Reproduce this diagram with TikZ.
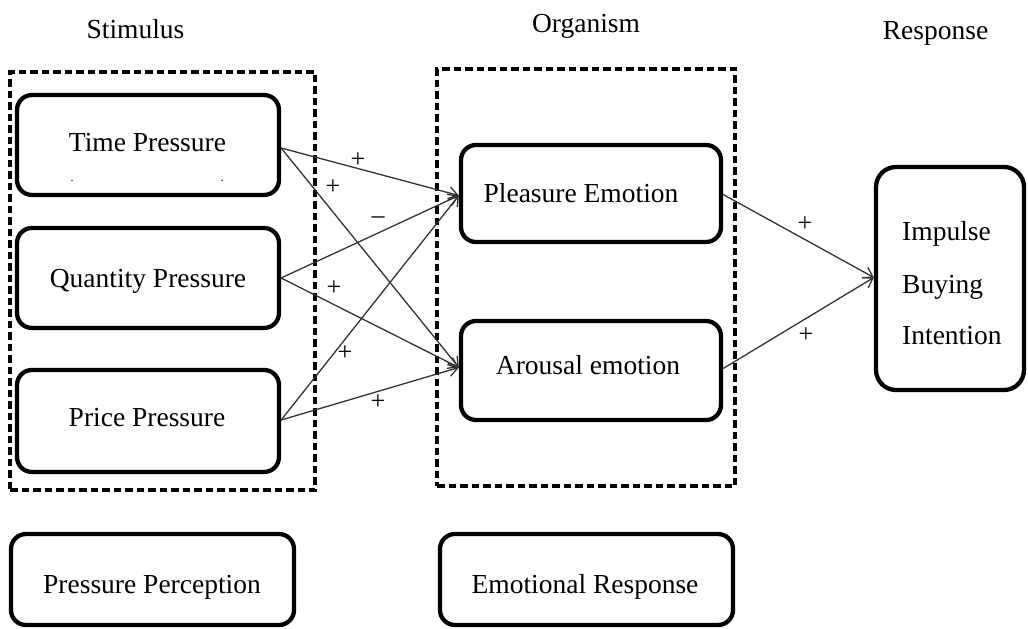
\documentclass[tikz,border=0pt]{standalone}
\usepackage{fontspec}
\setmainfont{Liberation Serif}
\usetikzlibrary{arrows.meta}
\begin{document}
\begin{tikzpicture}[x=1pt,y=-1pt,
  txt/.style={font=\fontsize{27.5}{32}\selectfont, inner sep=0pt, anchor=base},
  sign/.style={font=\fontsize{26}{30}\selectfont, inner sep=0pt},
  dotmark/.style={font=\fontsize{12}{14}\selectfont, inner sep=0pt},
  box/.style={draw, line width=4.3pt, rounded corners=15pt, inner sep=0pt},
  group/.style={draw, line width=4pt, dash pattern=on 7.5pt off 4pt, inner sep=0pt},
  link/.style={line width=1.3pt, draw=black!80, -{Straight Barb[length=9pt,width=12pt,line width=1.3pt]}}
]
\useasboundingbox (0,0) rectangle (1028,629);

% group frames
\node[group, minimum width=305pt, minimum height=418pt] (stimgrp) at (162.5,281) {};
\node[group, minimum width=298pt, minimum height=417pt] (orggrp) at (586,277.5) {};

% titles
\node[txt] (tStim) at (135.5,38) {Stimulus};
\node[txt] (tOrg) at (586,32) {Organism};
\node[txt] (tResp) at (935.5,39) {Response};

% boxes
\node[box, minimum width=262pt, minimum height=100pt] (tp) at (148,145) {};
\node[box, minimum width=262pt, minimum height=100pt] (qp) at (148,278) {};
\node[box, minimum width=262pt, minimum height=102pt] (pp) at (148,421) {};
\node[box, minimum width=260pt, minimum height=97pt] (pe) at (591,193.5) {};
\node[box, minimum width=260pt, minimum height=99pt] (ae) at (591,370.5) {};
\node[box, rounded corners=20pt, minimum width=148pt, minimum height=223pt] (ib) at (950,278.5) {};
\node[box, minimum width=283pt, minimum height=91pt] (pc) at (152.5,579.5) {};
\node[box, minimum width=293pt, minimum height=91pt] (er) at (586.5,579.5) {};

% box texts
\node[txt] (xTime) at (147.5,151) {Time Pressure};
\node[dotmark] (dotA) at (72,181) {.};
\node[dotmark] (dotB) at (222,181) {.};
\node[txt] (xQty) at (148,287) {Quantity Pressure};
\node[txt] (xPrice) at (147,426) {Price Pressure};
\node[txt] (xPle) at (581,202) {Pleasure Emotion};
\node[txt] (xAro) at (588,374) {Arousal emotion};
\node[txt, anchor=base west] (xImp1) at (902,240) {Impulse};
\node[txt, anchor=base west] (xImp2) at (902,293) {Buying};
\node[txt, anchor=base west] (xImp3) at (902,344) {Intention};
\node[txt] (xPc) at (152,593) {Pressure Perception};
\node[txt] (xEr) at (585,593) {Emotional Response};

% connectors
\draw[link] ([yshift=-3pt]tp.east) -- ([yshift=-2pt]pe.west);
\draw[link] ([yshift=-3pt]tp.east) -- ([yshift=3pt]ae.west);
\draw[link] (qp.east) -- ([yshift=-2pt]pe.west);
\draw[link] (qp.east) -- ([yshift=3pt]ae.west);
\draw[link] ([yshift=1pt]pp.east) -- ([yshift=-2pt]pe.west);
\draw[link] ([yshift=1pt]pp.east) -- ([yshift=3pt]ae.west);
\draw[link] ([yshift=-1pt]pe.east) -- ([yshift=1pt]ib.west);
\draw[link] ([yshift=2pt]ae.east) -- ([yshift=1pt]ib.west);

% signs
\node[sign] (s1) at (358,160) {+};
\node[sign] (s2) at (333,187) {+};
\node[sign] (s3) at (378,220) {–};
\node[sign] (s4) at (334,288) {+};
\node[sign] (s5) at (345,353) {+};
\node[sign] (s6) at (378,402) {+};
\node[sign] (s7) at (805,224) {+};
\node[sign] (s8) at (806,335) {+};
\end{tikzpicture}
\end{document}
